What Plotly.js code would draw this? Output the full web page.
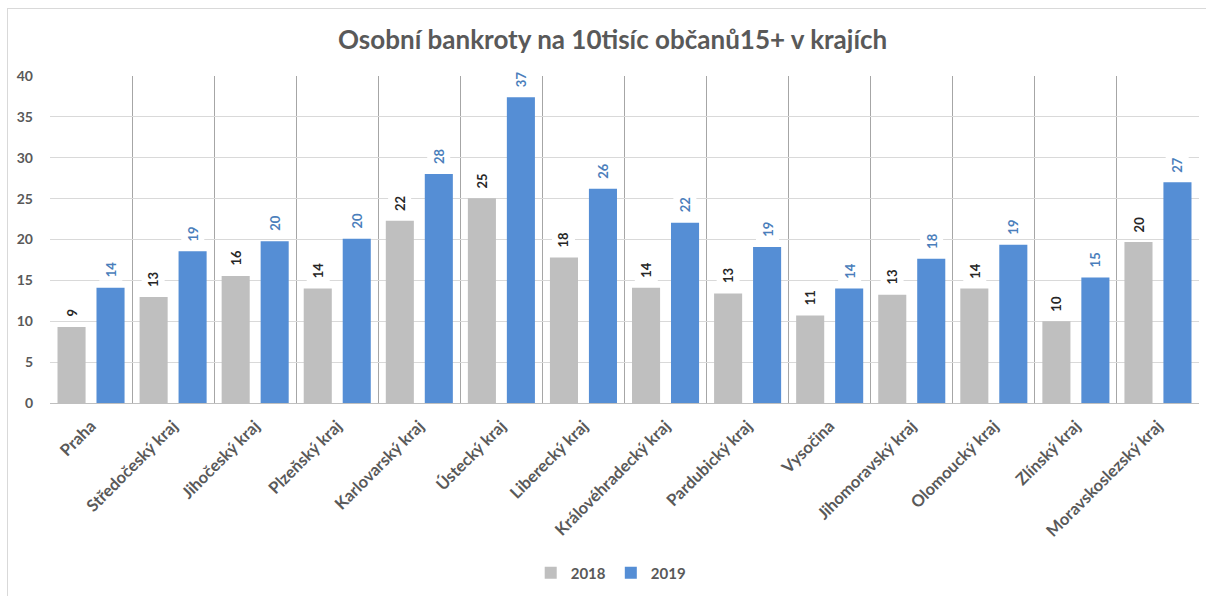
<!DOCTYPE html>
<html>
<head>
<meta charset="utf-8">
<script src="https://cdn.plot.ly/plotly-3.0.1.min.js"></script>
<style>
  html, body { margin: 0; padding: 0; background: #ffffff; }
  #wrap { position: relative; width: 1206px; height: 596px; }
  #chart { width: 1206px; height: 596px; }
  #frame { position: absolute; left: 7px; top: 8px; width: 1210px; height: 600px;
           border: 1px solid #d9d9d9; pointer-events: none; box-sizing: border-box; }
</style>
</head>
<body>
<div id="wrap">
  <div id="chart"></div>
  <div id="frame"></div>
</div>
<script>
const titleText = 'Osobní bankroty na 10tisíc občanů15+ v krajích';
const categories = ['Praha', 'Středočeský kraj', 'Jihočeský kraj', 'Plzeňský kraj', 'Karlovarský kraj',
  'Ústecký kraj', 'Liberecký kraj', 'Královéhradecký kraj', 'Pardubický kraj', 'Vysočina',
  'Jihomoravský kraj', 'Olomoucký kraj', 'Zlínský kraj', 'Moravskoslezský kraj'];
const seriesNames = ['2018', '2019'];
const values2018 = [9.3, 12.97, 15.55, 14.0, 22.3, 25.05, 17.8, 14.1, 13.4, 10.7, 13.25, 14.0, 10.0, 19.7];
const values2019 = [14.1, 18.55, 19.8, 20.1, 28.0, 37.4, 26.2, 22.06, 19.07, 14.0, 17.66, 19.35, 15.35, 27.0];
const yTicks = [0, 5, 10, 15, 20, 25, 30, 35, 40];

const FONT = 'Lato, "Open Sans", sans-serif';
const barColors = ['#bfbfbf', '#558ed5'];
const labelColors = ['#262626', '#4a7ebb'];

const traces = [values2018, values2019].map((vals, k) => ({
  type: 'bar',
  name: seriesNames[k],
  x: categories,
  y: vals,
  marker: { color: barColors[k] },
  hoverinfo: 'x+y'
}));

// value labels (rotated, white background breaks the gridlines as in the original)
const annotations = [];
[values2018, values2019].forEach((vals, k) => {
  vals.forEach((v, i) => {
    annotations.push({
      x: categories[i], y: v, xref: 'x', yref: 'y',
      text: String(Math.round(v)),
      showarrow: false,
      textangle: -90,
      xanchor: 'center', yanchor: 'bottom',
      xshift: k === 0 ? -19.5 : 19.5,
      yshift: 6,
      bgcolor: '#ffffff',
      borderpad: 3,
      font: { family: FONT, size: 13, color: labelColors[k], weight: 'bold' }
    });
  });
});

const layout = {
  width: 1206, height: 596,
  margin: { l: 50, r: 7, t: 76, b: 190 },
  paper_bgcolor: 'rgba(0,0,0,0)',
  plot_bgcolor: '#ffffff',
  title: {
    text: titleText,
    x: 0.508, xanchor: 'center',
    y: 0.933, yanchor: 'middle',
    font: { family: FONT, size: 26, color: '#595959', weight: 'bold' }
  },
  barmode: 'group',
  bargap: 0.05,
  bargroupgap: 0.28,
  xaxis: {
    type: 'category',
    tickson: 'boundaries',
    showgrid: true,
    gridcolor: '#a6a6a6',
    gridwidth: 1,
    ticks: '',
    showline: true,
    linecolor: '#bfbfbf',
    tickangle: -45,
    ticklabelstandoff: 6,
    tickfont: { family: FONT, size: 16.5, color: '#595959', weight: 'bold' },
    fixedrange: true
  },
  yaxis: {
    range: [0, 40],
    tickvals: yTicks,
    ticktext: yTicks.map(String),
    showgrid: true,
    gridcolor: '#d9d9d9',
    zeroline: false,
    showline: false,
    ticks: '',
    ticklabelstandoff: 16,
    tickfont: { family: FONT, size: 14, color: '#595959', weight: 'bold' },
    fixedrange: true
  },
  showlegend: true,
  legend: {
    orientation: 'h',
    x: 0.488, xanchor: 'center',
    y: -0.52, yanchor: 'middle',
    font: { family: FONT, size: 15, color: '#595959', weight: 'bold' },
    itemwidth: 30
  },
  annotations: annotations
};

Plotly.newPlot('chart', traces, layout, { displayModeBar: false, staticPlot: true });
</script>
</body>
</html>
